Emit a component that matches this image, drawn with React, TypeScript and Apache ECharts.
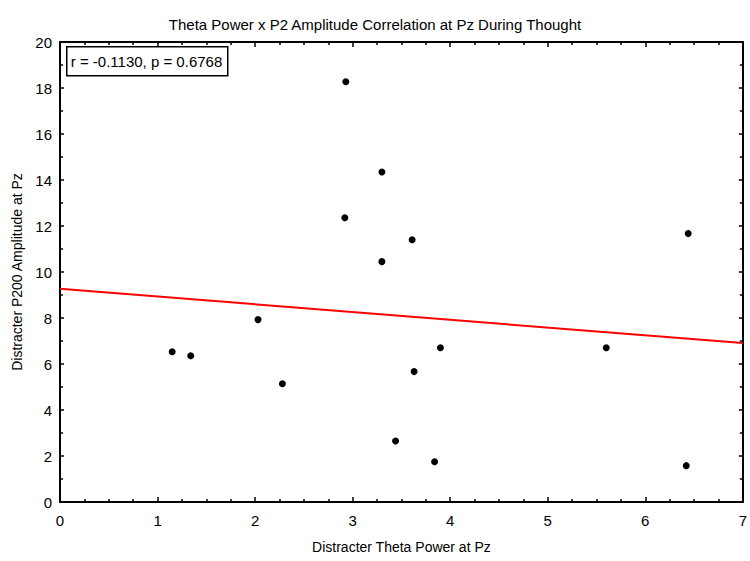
import React, { useEffect, useRef } from "react";
import * as echarts from "echarts";

const titleText = "Theta Power x P2 Amplitude Correlation at Pz During Thought";
const xName = "Distracter Theta Power at Pz";
const yName = "Distracter P200 Amplitude at Pz";
const statsLabel = "r = -0.1130, p = 0.6768";

const thetaPower = [1.15, 1.34, 2.03, 2.28, 2.92, 2.93, 3.3, 3.3, 3.44, 3.61, 3.63, 3.84, 3.9, 5.6, 6.42, 6.44];
const p200Amp = [6.53, 6.36, 7.93, 5.14, 12.36, 18.27, 14.35, 10.45, 2.65, 11.4, 5.67, 1.75, 6.71, 6.71, 1.58, 11.67];

const fitX = [0, 7];
const fitY = [9.27, 6.91];

const FONT = "'Liberation Sans', Arial, sans-serif";

export default function App() {
  const ref = useRef<HTMLDivElement>(null);
  useEffect(() => {
    if (!ref.current) return;
    const chart = echarts.init(ref.current, undefined, { renderer: "svg" });
    const axisCommon = {
      type: "value",
      axisLine: { show: true, onZero: false, lineStyle: { color: "#000", width: 2 } },
      splitLine: { show: false },
    };
    chart.setOption({
      animation: false,
      backgroundColor: "#fff",
      textStyle: { fontFamily: FONT },
      title: {
        text: titleText,
        left: "center",
        top: 12,
        textStyle: { fontFamily: FONT, fontSize: 15, fontWeight: "normal", color: "#000" },
      },
      grid: { left: 60, right: 7, top: 42, bottom: 59 },
      xAxis: [
        {
          ...axisCommon,
          min: 0,
          max: 7,
          interval: 1,
          position: "bottom",
          name: xName,
          nameLocation: "middle",
          nameGap: 38,
          nameTextStyle: { fontFamily: FONT, fontSize: 14, color: "#000" },
          axisTick: { show: true, inside: true, length: 5, lineStyle: { color: "#000", width: 1.5 } },
          minorTick: { show: true, splitNumber: 4, length: 3, lineStyle: { color: "#000", width: 1.5 } },
          axisLabel: { fontFamily: FONT, fontSize: 15, color: "#000", margin: 11, showMaxLabel: true },
        },
        {
          ...axisCommon,
          min: 0,
          max: 7,
          interval: 1,
          position: "top",
          axisTick: { show: true, inside: true, length: 5, lineStyle: { color: "#000", width: 1.5 } },
          minorTick: { show: true, splitNumber: 4, length: 3, lineStyle: { color: "#000", width: 1.5 } },
          axisLabel: { show: false },
        },
      ],
      yAxis: [
        {
          ...axisCommon,
          min: 0,
          max: 20,
          interval: 2,
          position: "left",
          name: yName,
          nameLocation: "middle",
          nameGap: 35,
          nameTextStyle: { fontFamily: FONT, fontSize: 14, color: "#000" },
          axisTick: { show: true, inside: true, length: 4, lineStyle: { color: "#000", width: 1.5 } },
          minorTick: { show: true, splitNumber: 2, length: 3, lineStyle: { color: "#000", width: 1.5 } },
          axisLabel: { fontFamily: FONT, fontSize: 15, color: "#000", margin: 8 },
        },
        {
          ...axisCommon,
          min: 0,
          max: 20,
          interval: 2,
          position: "right",
          axisTick: { show: true, inside: true, length: 4, lineStyle: { color: "#000", width: 1.5 } },
          minorTick: { show: true, splitNumber: 2, length: 3, lineStyle: { color: "#000", width: 1.5 } },
          axisLabel: { show: false },
        },
      ],
      series: [
        {
          type: "line",
          data: fitX.map((x, i) => [x, fitY[i]]),
          symbol: "none",
          lineStyle: { color: "#ff0000", width: 2 },
          z: 2,
        },
        {
          type: "scatter",
          data: thetaPower.map((x, i) => [x, p200Amp[i]]),
          symbol: "circle",
          symbolSize: 7,
          itemStyle: { color: "#000", opacity: 1 },
          z: 3,
        },
      ],
      graphic: [
        {
          type: "group",
          left: 66,
          top: 46,
          children: [
            {
              type: "rect",
              shape: { x: 0, y: 0, width: 161, height: 29 },
              style: { fill: "#fff", stroke: "#000", lineWidth: 1.5 },
            },
            {
              type: "text",
              x: 4,
              y: 15,
              style: {
                text: statsLabel,
                fontFamily: FONT,
                fontSize: 15,
                fill: "#000",
                verticalAlign: "middle",
              },
            },
          ],
        },
      ],
    });
    return () => chart.dispose();
  }, []);
  return (
    <div
      ref={ref}
      style={{ position: "absolute", left: 0, top: 0, width: 750, height: 561 }}
    />
  );
}
